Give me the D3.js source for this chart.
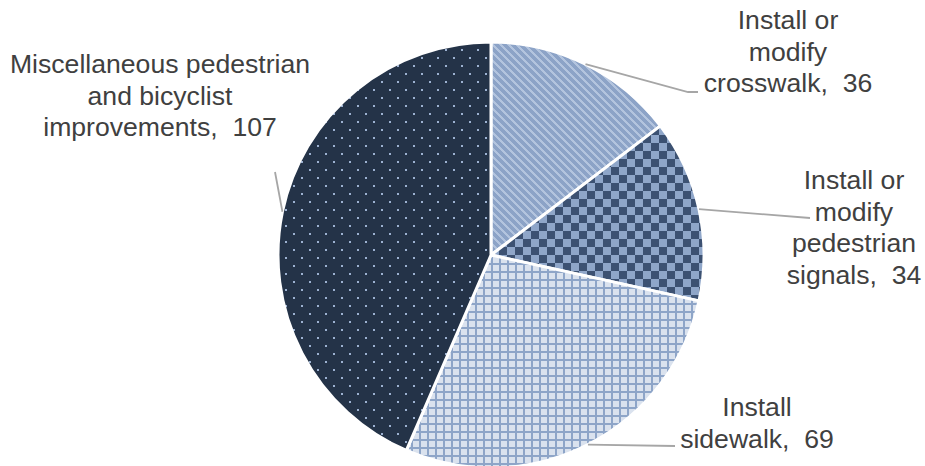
<!DOCTYPE html>
<html>
<head>
<meta charset="utf-8">
<script src="https://cdn.jsdelivr.net/npm/d3@7"></script>
<style>
  html, body { margin: 0; padding: 0; background: #fff; }
  svg { display: block; }
  text { font-family: "Liberation Sans", Arial, sans-serif; }
</style>
</head>
<body>
<svg id="chart" width="925" height="466"></svg>
<script>
// ---- data ----
const categories = [
  "Install or modify crosswalk",
  "Install or modify pedestrian signals",
  "Install sidewalk",
  "Miscellaneous pedestrian and bicyclist improvements"
];
const values = [36, 34, 69, 107];
const labelLines = [
  ["Install or", "modify", "crosswalk,  36"],
  ["Install or", "modify", "pedestrian", "signals,  34"],
  ["Install", "sidewalk,  69"],
  ["Miscellaneous pedestrian", "and bicyclist", "improvements,  107"]
];

// ---- layout ----
const W = 925, H = 466;
const cx = 491, cy = 255, R = 213;
const labelLayout = [
  { x: 788, y: 29, leader: [[688, 92], [698, 92]] },
  { x: 854, y: 189, leader: [[810, 218]] },
  { x: 757, y: 416, leader: [[675, 446]] },
  { x: 160, y: 73, leader: [[275, 172]] }
];
const lineH = 31.5;
const patternIds = ["pStripe", "pChecker", "pGrid", "pDots"];

const svg = d3.select("#chart");
const defs = svg.append("defs");

// diagonal stripes
const p1 = defs.append("pattern").attr("id", "pStripe").attr("patternUnits", "userSpaceOnUse")
  .attr("width", 8).attr("height", 8);
p1.append("rect").attr("width", 8).attr("height", 8).attr("fill", "#b3c4de");
p1.append("path").attr("d", "M-2,-2 L10,10 M-2,6 L2,10 M6,-2 L10,2")
  .attr("stroke", "#8ca3c7").attr("stroke-width", 3.4).attr("shape-rendering", "crispEdges");

// checkerboard
const p2 = defs.append("pattern").attr("id", "pChecker").attr("patternUnits", "userSpaceOnUse")
  .attr("width", 16).attr("height", 16);
p2.append("rect").attr("width", 16).attr("height", 16).attr("fill", "#8fa6c9");
p2.append("rect").attr("width", 8).attr("height", 8).attr("fill", "#3c5172");
p2.append("rect").attr("x", 8).attr("y", 8).attr("width", 8).attr("height", 8).attr("fill", "#3c5172");

// grid
const p3 = defs.append("pattern").attr("id", "pGrid").attr("patternUnits", "userSpaceOnUse")
  .attr("width", 8).attr("height", 8);
p3.append("rect").attr("width", 8).attr("height", 8).attr("fill", "#8ea5c8");
p3.append("rect").attr("x", 2).attr("y", 2).attr("width", 6).attr("height", 6).attr("fill", "#dae2ee");

// dots
const p4 = defs.append("pattern").attr("id", "pDots").attr("patternUnits", "userSpaceOnUse")
  .attr("width", 16).attr("height", 16);
p4.append("rect").attr("width", 16).attr("height", 16).attr("fill", "#243348");
p4.append("rect").attr("x", 2).attr("y", 2).attr("width", 2).attr("height", 2).attr("fill", "#9db2d2");
p4.append("rect").attr("x", 10).attr("y", 10).attr("width", 2).attr("height", 2).attr("fill", "#9db2d2");

const data = categories.map((c, i) => ({ category: c, value: values[i], i }));
const pie = d3.pie().value(d => d.value).sort(null);
const arcs = pie(data);
const arc = d3.arc().innerRadius(0).outerRadius(R);
const edgeArc = d3.arc().innerRadius(R).outerRadius(R);

const g = svg.append("g").attr("transform", `translate(${cx},${cy})`);
g.selectAll("path.slice").data(arcs).join("path")
  .attr("class", "slice")
  .attr("d", arc)
  .attr("fill", d => `url(#${patternIds[d.data.i]})`)
  .attr("stroke", "#ffffff")
  .attr("stroke-width", 3)
  .attr("stroke-linejoin", "round");

// leader lines
arcs.forEach((a, i) => {
  const c = edgeArc.centroid(a);
  const pts = [[cx + c[0], cy + c[1]]].concat(labelLayout[i].leader);
  svg.append("path")
    .attr("d", d3.line()(pts))
    .attr("fill", "none")
    .attr("stroke", "#a6a6a6")
    .attr("stroke-width", 1.8);
});

// labels
labelLines.forEach((lines, i) => {
  const L = labelLayout[i];
  const t = svg.append("text")
    .attr("text-anchor", "middle")
    .attr("font-size", 26.6)
    .attr("fill", "#404040");
  lines.forEach((ln, k) => {
    t.append("tspan").attr("x", L.x).attr("y", L.y + k * lineH)
      .attr("xml:space", "preserve")
      .style("white-space", "pre")
      .text(ln);
  });
});
</script>
</body>
</html>
